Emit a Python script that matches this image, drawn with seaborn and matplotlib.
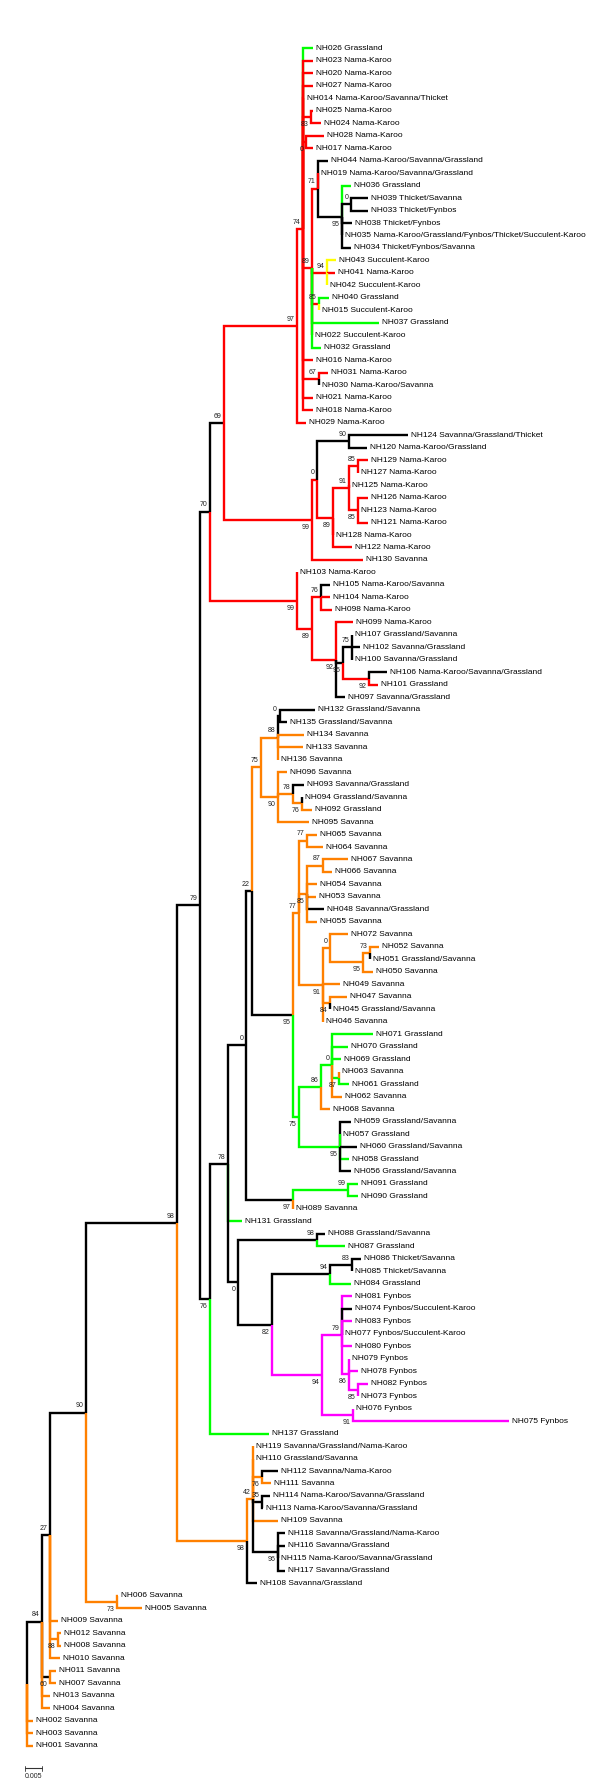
import matplotlib
matplotlib.use("Agg")
import matplotlib.pyplot as plt
import seaborn as sns

sns.set_theme(style="white")
plt.rcParams['font.family'] = ['Liberation Sans', 'DejaVu Sans']

# ---------------- data ----------------
LEAF_IDS = [
    "NH026","NH023","NH020","NH027","NH014","NH025","NH024","NH028","NH017","NH044",
    "NH019","NH036","NH039","NH033","NH038","NH035","NH034","NH043","NH041","NH042",
    "NH040","NH015","NH037","NH022","NH032","NH016","NH031","NH030","NH021","NH018",
    "NH029","NH124","NH120","NH129","NH127","NH125","NH126","NH123","NH121","NH128",
    "NH122","NH130","NH103","NH105","NH104","NH098","NH099","NH107","NH102","NH100",
    "NH106","NH101","NH097","NH132","NH135","NH134","NH133","NH136","NH096","NH093",
    "NH094","NH092","NH095","NH065","NH064","NH067","NH066","NH054","NH053","NH048",
    "NH055","NH072","NH052","NH051","NH050","NH049","NH047","NH045","NH046","NH071",
    "NH070","NH069","NH063","NH061","NH062","NH068","NH059","NH057","NH060","NH058",
    "NH056","NH091","NH090","NH089","NH131","NH088","NH087","NH086","NH085","NH084",
    "NH081","NH074","NH083","NH077","NH080","NH079","NH078","NH082","NH073","NH076",
    "NH075","NH137","NH119","NH110","NH112","NH111","NH114","NH113","NH109","NH118",
    "NH116","NH115","NH117","NH108","NH006","NH005","NH009","NH012","NH008","NH010",
    "NH011","NH007","NH013","NH004","NH002","NH003","NH001"]

LEAF_HABITATS = [
    "Grassland","Nama-Karoo","Nama-Karoo","Nama-Karoo","Nama-Karoo/Savanna/Thicket",
    "Nama-Karoo","Nama-Karoo","Nama-Karoo","Nama-Karoo","Nama-Karoo/Savanna/Grassland",
    "Nama-Karoo/Savanna/Grassland","Grassland","Thicket/Savanna","Thicket/Fynbos","Thicket/Fynbos",
    "Nama-Karoo/Grassland/Fynbos/Thicket/Succulent-Karoo","Thicket/Fynbos/Savanna","Succulent-Karoo","Nama-Karoo","Succulent-Karoo",
    "Grassland","Succulent-Karoo","Grassland","Succulent-Karoo","Grassland",
    "Nama-Karoo","Nama-Karoo","Nama-Karoo/Savanna","Nama-Karoo","Nama-Karoo",
    "Nama-Karoo","Savanna/Grassland/Thicket","Nama-Karoo/Grassland","Nama-Karoo","Nama-Karoo",
    "Nama-Karoo","Nama-Karoo","Nama-Karoo","Nama-Karoo","Nama-Karoo",
    "Nama-Karoo","Savanna","Nama-Karoo","Nama-Karoo/Savanna","Nama-Karoo",
    "Nama-Karoo","Nama-Karoo","Grassland/Savanna","Savanna/Grassland","Savanna/Grassland",
    "Nama-Karoo/Savanna/Grassland","Grassland","Savanna/Grassland","Grassland/Savanna","Grassland/Savanna",
    "Savanna","Savanna","Savanna","Savanna","Savanna/Grassland",
    "Grassland/Savanna","Grassland","Savanna","Savanna","Savanna",
    "Savanna","Savanna","Savanna","Savanna","Savanna/Grassland",
    "Savanna","Savanna","Savanna","Grassland/Savanna","Savanna",
    "Savanna","Savanna","Grassland/Savanna","Savanna","Grassland",
    "Grassland","Grassland","Savanna","Grassland","Savanna",
    "Savanna","Grassland/Savanna","Grassland","Grassland/Savanna","Grassland",
    "Grassland/Savanna","Grassland","Grassland","Savanna","Grassland",
    "Grassland/Savanna","Grassland","Thicket/Savanna","Thicket/Savanna","Grassland",
    "Fynbos","Fynbos/Succulent-Karoo","Fynbos","Fynbos/Succulent-Karoo","Fynbos",
    "Fynbos","Fynbos","Fynbos","Fynbos","Fynbos",
    "Fynbos","Grassland","Savanna/Grassland/Nama-Karoo","Grassland/Savanna","Savanna/Nama-Karoo",
    "Savanna","Nama-Karoo/Savanna/Grassland","Nama-Karoo/Savanna/Grassland","Savanna","Savanna/Grassland/Nama-Karoo",
    "Savanna/Grassland","Nama-Karoo/Savanna/Grassland","Savanna/Grassland","Savanna/Grassland","Savanna",
    "Savanna","Savanna","Savanna","Savanna","Savanna",
    "Savanna","Savanna","Savanna","Savanna","Savanna",
    "Savanna","Savanna"]

# internal nodes: (node, parent, depth, branch colour, bootstrap support, label side)
NODES_TOP = [
    ("n70", "n79", 210.0, "k", 70, "a"),
    ("n69", "n70", 224.0, "k", 69, "a"),
    ("n97", "n69", 296.7, "r", 97, "a"),
    ("n74", "n97", 303.3, "r", 74, "a"),
    ("n83", "n74", 311.0, "r", 83, "b"),
    ("n0t", "n74", 306.0, "r", 0, "b"),
    ("n89t", "n74", 311.7, "r", 89, "a"),
    ("n71", "n89t", 318.3, "r", 71, "a"),
    ("n95t", "n71", 341.7, "k", 95, "b"),
    ("n0t2", "n95t", 351.0, "k", 0, "a"),
    ("n94", "n89t", 326.7, "r", 94, "a"),
    ("n85t", "n89t", 319.3, "r", 85, "a"),
    ("n67", "n74", 319.3, "r", 67, "a"),
    ("n99", "n69", 312.3, "r", 99, "b"),
    ("n0b2", "n99", 316.7, "r", 0, "a"),
    ("n90k", "n0b2", 349.3, "k", 90, "a"),
    ("n89r", "n0b2", 333.3, "r", 89, "b"),
    ("n91r", "n89r", 349.3, "r", 91, "a"),
    ("n85a", "n91r", 357.7, "r", 85, "a"),
    ("n85b", "n91r", 357.7, "r", 85, "b"),
    ("n99b", "n70", 296.7, "r", 99, "b"),
    ("n89b", "n99b", 312.3, "r", 89, "b"),
    ("n76r", "n89b", 321.0, "r", 76, "a"),
    ("n92", "n89b", 336.0, "r", 92, "b"),
    ("n95k", "n92", 343.3, "k", 95, "b"),
    ("n75k", "n95k", 351.7, "k", 75, "a"),
    ("n92s", "n95k", 369.3, "r", 92, "b"),
]
NODES_MID = [
    ("n79", "n98", 200.0, "k", 79, "a"),
    ("n76", "n79", 210.0, "k", 76, "b"),
    ("n78", "n76", 227.7, "k", 78, "a"),
    ("n0a", "n78", 246.0, "k", 0, "a"),
    ("n22", "n0a", 251.7, "k", 22, "a"),
    ("n75o", "n22", 261.0, "o", 75, "a"),
    ("n88o", "n75o", 277.7, "o", 88, "a"),
    ("n0k", "n88o", 279.5, "k", 0, "a"),
    ("n90o", "n75o", 277.7, "o", 90, "b"),
    ("n78o", "n90o", 293.3, "o", 78, "a"),
    ("n76o", "n78o", 301.7, "o", 76, "b"),
    ("n95b", "n22", 292.7, "k", 95, "b"),
    ("n77", "n95b", 299.3, "o", 77, "a"),
    ("n77a", "n77", 306.7, "o", 77, "a"),
    ("n85o", "n77", 306.7, "o", 85, "b"),
    ("n87o", "n85o", 322.7, "o", 87, "a"),
    ("n91o", "n77", 322.7, "o", 91, "b"),
    ("n0o2", "n91o", 330.0, "o", 0, "a"),
    ("n95o", "n0o2", 363.3, "o", 95, "b"),
    ("n73o", "n95o", 370.0, "o", 73, "a"),
    ("n84o", "n91o", 330.0, "o", 84, "b"),
    ("n75g", "n95b", 299.3, "g", 75, "b"),
    ("n86g", "n75g", 321.0, "g", 86, "a"),
    ("n0g", "n86g", 331.7, "g", 0, "a"),
    ("n87g", "n0g", 339.3, "g", 87, "b"),
    ("n95c", "n75g", 340.0, "g", 95, "b"),
    ("n97b", "n0a", 293.3, "k", 97, "b"),
    ("n99g", "n97b", 348.3, "g", 99, "a"),
    ("n0b", "n78", 238.3, "k", 0, "b"),
    ("n98c", "n0b", 316.7, "k", 98, "a"),
    ("n82", "n0b", 271.7, "k", 82, "b"),
    ("n94b", "n82", 330.0, "k", 94, "a"),
    ("n83k", "n94b", 351.7, "k", 83, "a"),
    ("n94c", "n82", 321.7, "m", 94, "b"),
    ("n79m", "n94c", 341.7, "m", 79, "a"),
    ("n86m", "n79m", 349.3, "m", 86, "b"),
    ("n85m", "n86m", 358.3, "m", 85, "b"),
    ("n91m", "n94c", 352.7, "m", 91, "b"),
]
NODES_BASE = [
    ("root", None, 26.7, "k", None, "a"),
    ("n84", "root", 41.7, "k", 84, "a"),
    ("n60", "n84", 49.5, "k", 60, "b"),
    ("n27", "n84", 50.0, "k", 27, "a"),
    ("n88s", "n27", 58.3, "o", 88, "b"),
    ("n90", "n27", 86.0, "k", 90, "a"),
    ("n73", "n90", 116.7, "o", 73, "b"),
    ("n98", "n90", 176.7, "k", 98, "a"),
    ("n98b", "n98", 246.7, "o", 98, "b"),
    ("n42", "n98b", 253.3, "o", 42, "a"),
    ("n76b", "n42", 261.7, "o", 76, "b"),
    ("n35", "n42", 261.7, "k", 35, "a"),
    ("n96", "n42", 277.7, "k", 96, "b"),
]

# leaf branches: (leaf, parent, tip depth, branch colour)
TIPS = [
    ("NH026","n74",313.0,"g"),("NH023","n74",313.0,"r"),("NH020","n74",313.0,"r"),
    ("NH027","n74",313.0,"r"),("NH014","n74",304.0,"r"),("NH025","n83",312.7,"r"),
    ("NH024","n83",320.7,"r"),("NH028","n0t",324.3,"r"),("NH017","n0t",312.7,"r"),
    ("NH044","n71",328.3,"k"),("NH019","n71",318.3,"r"),("NH036","n95t",351.0,"g"),
    ("NH039","n0t2",368.3,"k"),("NH033","n0t2",368.3,"k"),("NH038","n95t",351.7,"k"),
    ("NH035","n95t",341.7,"k"),("NH034","n95t",351.0,"k"),("NH043","n94",335.7,"y"),
    ("NH041","n94",335.0,"r"),("NH042","n94",326.7,"y"),("NH040","n85t",329.0,"g"),
    ("NH015","n85t",319.3,"y"),("NH037","n89t",379.3,"g"),("NH022","n89t",311.7,"r"),
    ("NH032","n89t",320.7,"g"),("NH016","n74",312.7,"r"),("NH031","n67",328.3,"r"),
    ("NH030","n67",319.3,"k"),("NH021","n74",313.0,"r"),("NH018","n74",313.0,"r"),
    ("NH029","n97",305.7,"r"),("NH124","n90k",408.3,"k"),("NH120","n90k",366.7,"k"),
    ("NH129","n85a",368.3,"r"),("NH127","n85a",357.7,"r"),("NH125","n91r",349.3,"r"),
    ("NH126","n85b",368.3,"r"),("NH123","n85b",357.7,"r"),("NH121","n85b",368.3,"r"),
    ("NH128","n89r",333.3,"r"),("NH122","n89r",351.7,"r"),("NH130","n99",363.3,"r"),
    ("NH103","n99b",296.7,"r"),("NH105","n76r",330.0,"k"),("NH104","n76r",330.0,"r"),
    ("NH098","n76r",331.7,"r"),("NH099","n92",353.3,"r"),("NH107","n75k",351.7,"k"),
    ("NH102","n75k",360.0,"k"),("NH100","n75k",351.7,"k"),("NH106","n92s",386.7,"k"),
    ("NH101","n92s",378.3,"r"),("NH097","n92",345.0,"k"),
    ("NH132","n0k",315.0,"k"),("NH135","n0k",286.7,"k"),("NH134","n88o",304.0,"o"),
    ("NH133","n88o",303.3,"o"),("NH136","n88o",277.7,"o"),("NH096","n90o",287.3,"o"),
    ("NH093","n78o",304.0,"k"),("NH094","n76o",301.7,"k"),("NH092","n76o",311.7,"o"),
    ("NH095","n90o",309.3,"o"),("NH065","n77a",316.7,"o"),("NH064","n77a",323.3,"o"),
    ("NH067","n87o",348.3,"o"),("NH066","n87o",331.7,"o"),("NH054","n85o",316.7,"o"),
    ("NH053","n85o",315.7,"o"),("NH048","n85o",324.0,"k"),("NH055","n85o",316.7,"o"),
    ("NH072","n0o2",348.3,"o"),("NH052","n73o",379.3,"o"),("NH051","n73o",370.0,"k"),
    ("NH050","n95o",373.3,"o"),("NH049","n91o",340.0,"o"),("NH047","n84o",347.3,"o"),
    ("NH045","n84o",330.0,"k"),("NH046","n91o",322.7,"o"),("NH071","n0g",373.3,"g"),
    ("NH070","n0g",348.3,"g"),("NH069","n0g",341.0,"g"),("NH063","n87g",339.3,"o"),
    ("NH061","n87g",349.3,"g"),("NH062","n0g",341.7,"o"),("NH068","n86g",330.0,"o"),
    ("NH059","n95c",351.0,"k"),("NH057","n95c",340.0,"g"),("NH060","n95c",356.7,"k"),
    ("NH058","n95c",349.3,"g"),("NH056","n95c",351.0,"k"),("NH091","n99g",358.3,"g"),
    ("NH090","n99g",358.3,"g"),("NH089","n97b",293.3,"o"),("NH131","n78",241.7,"g"),
    ("NH088","n98c",325.0,"k"),("NH087","n98c",345.0,"g"),("NH086","n83k",360.7,"k"),
    ("NH085","n83k",351.7,"k"),("NH084","n94b",351.0,"g"),("NH081","n79m",351.7,"m"),
    ("NH074","n79m",351.7,"k"),("NH083","n79m",351.7,"m"),("NH077","n79m",341.7,"m"),
    ("NH080","n79m",351.7,"m"),("NH079","n86m",349.3,"m"),("NH078","n86m",358.3,"m"),
    ("NH082","n85m",368.3,"m"),("NH073","n85m",358.3,"m"),("NH076","n91m",352.7,"m"),
    ("NH075","n91m",509.0,"m"),("NH137","n76",269.3,"g"),
    ("NH119","n42",253.3,"o"),("NH110","n42",253.3,"o"),("NH112","n76b",278.3,"k"),
    ("NH111","n76b",270.7,"o"),("NH114","n35",270.0,"k"),("NH113","n35",263.0,"k"),
    ("NH109","n42",278.3,"o"),("NH118","n96",285.0,"k"),("NH116","n96",285.0,"k"),
    ("NH115","n96",277.7,"k"),("NH117","n96",285.0,"k"),("NH108","n98b",256.7,"k"),
    ("NH006","n73",118.3,"o"),("NH005","n73",141.7,"o"),("NH009","n27",58.3,"o"),
    ("NH012","n88s",61.0,"o"),("NH008","n88s",61.0,"o"),("NH010","n27",60.0,"o"),
    ("NH011","n60",56.0,"o"),("NH007","n60",56.0,"o"),("NH013","n84",50.0,"o"),
    ("NH004","n84",50.0,"o"),("NH002","root",33.0,"o"),("NH003","root",33.0,"o"),
    ("NH001","root",33.0,"o"),
]

SCALE_BAR_LEN = 17.0      # tree units corresponding to 0.005 substitutions/site
SCALE_BAR_LABEL = "0.005"

PALETTE = {"k": "#000000", "r": "#ff0000", "g": "#00ff00", "o": "#ff8000",
           "m": "#ff00ff", "y": "#ffff00"}

# ---------------- build tree ----------------
nodes = {}
for rec in NODES_TOP + NODES_MID + NODES_BASE:
    name, parent, depth, col, sup, side = rec
    nodes[name] = dict(parent=parent, x=depth, col=col, sup=sup, side=side,
                       children=[], leaf=False)
leaf_index = {lid: i for i, lid in enumerate(LEAF_IDS)}
for lid, parent, depth, col in TIPS:
    nodes[lid] = dict(parent=parent, x=depth, col=col, sup=None, side="a",
                      children=[], leaf=True, y=float(leaf_index[lid]))
for name, nd in nodes.items():
    if nd["parent"] is not None:
        nodes[nd["parent"]]["children"].append(name)


def get_y(name):
    nd = nodes[name]
    if "y" in nd:
        return nd["y"]
    ys = [get_y(c) for c in nd["children"]]
    nd["y"] = (min(ys) + max(ys)) / 2.0
    return nd["y"]


get_y("root")
for nd in nodes.values():
    nd["children"].sort(key=lambda c: nodes[c]["y"])

# ---------------- draw ----------------
fig = plt.figure(figsize=(6.0, 17.86), dpi=100)
ax = fig.add_axes([0, 0, 1, 1])
ax.set_xlim(0, 600)
ax.set_ylim(139.24, -3.87)
ax.axis("off")

LW = 1.7


def draw(name):
    nd = nodes[name]
    for c in nd["children"]:
        cn = nodes[c]
        ax.plot([nd["x"], nd["x"], cn["x"]], [nd["y"], cn["y"], cn["y"]],
                color=PALETTE[cn["col"]], lw=LW, solid_capstyle="butt",
                solid_joinstyle="miter", zorder=2)
    for c in nd["children"]:
        draw(c)


draw("root")

for i, lid in enumerate(LEAF_IDS):
    nd = nodes[lid]
    ax.text(nd["x"] + 3.0, nd["y"], f"{lid} {LEAF_HABITATS[i]}",
            fontsize=6.0, ha="left", va="center", color="#000000", zorder=3)

for name, nd in nodes.items():
    if nd["leaf"] or nd["sup"] is None:
        continue
    dy = -0.55 if nd["side"] == "a" else 0.6
    ax.text(nd["x"] - 2.5, nd["y"] + dy, str(nd["sup"]), fontsize=5.0,
            ha="right", va="center", color="#222222", zorder=3)

# scale bar
sb_y = 137.8
ax.plot([25, 25 + SCALE_BAR_LEN], [sb_y, sb_y], color="#333333", lw=0.8)
ax.plot([25, 25], [sb_y - 0.2, sb_y + 0.2], color="#333333", lw=0.6)
ax.plot([25 + SCALE_BAR_LEN] * 2, [sb_y - 0.2, sb_y + 0.2], color="#333333", lw=0.6)
ax.text(25 + SCALE_BAR_LEN / 2, sb_y + 0.7, SCALE_BAR_LABEL, fontsize=5.0,
        ha="center", va="center", color="#222222")

fig.savefig("out.png", dpi=100, facecolor="white")
